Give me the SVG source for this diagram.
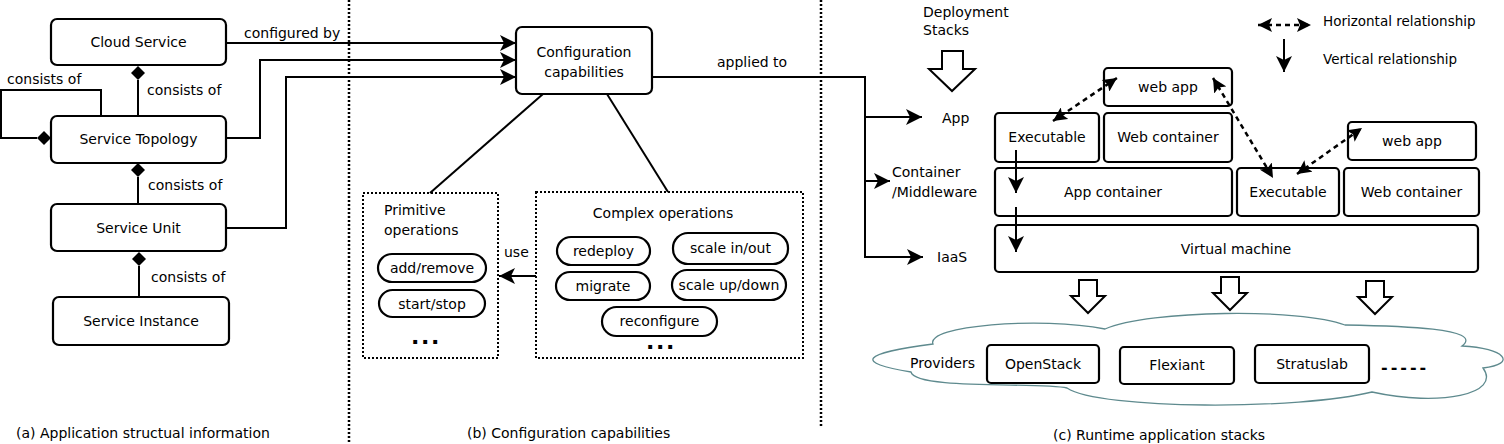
<svg xmlns="http://www.w3.org/2000/svg" width="1504" height="444" viewBox="0 0 1504 444">
<style>
.t{font-family:"DejaVu Sans",Verdana,sans-serif;font-size:14px;fill:#000}
.s{font-size:13.5px}
.m{text-anchor:middle}
.box{fill:#fff;stroke:#000;stroke-width:2.2}
.dot{fill:none;stroke:#000;stroke-width:2;stroke-dasharray:2 2}
.sep{fill:none;stroke:#000;stroke-width:2.5;stroke-dasharray:2 2}
.ln{fill:none;stroke:#000;stroke-width:2}
.dash{fill:none;stroke:#000;stroke-width:2.5;stroke-dasharray:5 4}
.dia{fill:#000;stroke:none}
.ha{fill:#fff;stroke:#000;stroke-width:2}
.cl{fill:#fff;stroke:#5e8a8e;stroke-width:1.3}
.b{font-weight:bold;font-size:22px;letter-spacing:1.6px}
</style>
<defs>
<marker id="ah" markerUnits="userSpaceOnUse" markerWidth="16" markerHeight="16" viewBox="0 0 16 16" refX="16" refY="8" orient="auto"><path d="M0,0 L16,8 L0,16 L4,8 Z" fill="#000"/></marker>
<marker id="dh" markerUnits="userSpaceOnUse" markerWidth="14" markerHeight="14" viewBox="0 0 14 14" refX="14" refY="7" orient="auto-start-reverse"><path d="M0,0 L14,7 L0,14 L3,7 Z" fill="#000"/></marker>
<polygon id="ha" class="ha" points="-9,0 9,0 9,16 17,16 0,33 -17,16 -9,16"/>
</defs>

<!-- separators -->
<g id="separators">
<line class="sep" x1="349" y1="0" x2="349" y2="444"/>
<line class="sep" x1="821" y1="0" x2="821" y2="428"/>
</g>

<!-- (a) nodes -->
<g id="cloud-service"><rect class="box" x="51" y="19" width="175" height="46" rx="6"/><text class="t m" x="138.5" y="47">Cloud Service</text></g>
<g id="service-topology"><rect class="box" x="51" y="116" width="175" height="47" rx="6"/><text class="t m" x="138.5" y="144">Service Topology</text></g>
<g id="service-unit"><rect class="box" x="51" y="204" width="175" height="47" rx="6"/><text class="t m" x="138.5" y="233">Service Unit</text></g>
<g id="service-instance"><rect class="box" x="53" y="297" width="176" height="48" rx="6"/><text class="t m" x="141" y="326">Service Instance</text></g>

<!-- (b) nodes -->
<g id="config-capabilities"><rect class="box" x="516" y="27" width="136" height="67" rx="6"/><text class="t m" x="584" y="57">Configuration</text><text class="t m" x="584" y="77">capabilities</text></g>
<g id="primitive-ops">
<rect class="dot" x="363" y="193" width="135" height="165"/>
<text class="t" x="384" y="215">Primitive</text><text class="t" x="384" y="235">operations</text>
<rect class="box" x="378" y="254" width="108" height="28" rx="14"/><text class="t m" x="432" y="273">add/remove</text>
<rect class="box" x="379" y="290" width="106" height="27" rx="13.5"/><text class="t m" x="432" y="309">start/stop</text>
<text class="t b" x="411" y="344">...</text>
</g>
<g id="complex-ops">
<rect class="dot" x="536" y="192" width="267" height="166"/>
<text class="t m" x="663" y="218">Complex operations</text>
<rect class="box" x="557" y="237" width="93" height="28" rx="14"/><text class="t m" x="603.5" y="256">redeploy</text>
<rect class="box" x="673" y="233" width="115" height="31" rx="15"/><text class="t m" x="730.5" y="253">scale in/out</text>
<rect class="box" x="556" y="272" width="94" height="28" rx="14"/><text class="t m" x="603" y="291">migrate</text>
<rect class="box" x="672" y="270" width="114" height="30" rx="15"/><text class="t m" x="729" y="290">scale up/down</text>
<rect class="box" x="602" y="307" width="115" height="29" rx="14.5"/><text class="t m" x="659.5" y="326">reconfigure</text>
<text class="t b" x="646" y="349">...</text>
</g>

<!-- (c) nodes -->
<g id="deployment-stacks">
<text class="t" x="923" y="17">Deployment</text><text class="t" x="923" y="35">Stacks</text>
<polygon class="ha" points="942,51 963,51 963,69 975,69 952,91 929,69 942,69"/>
</g>
<g id="layer-labels">
<text class="t" x="942" y="123">App</text>
<text class="t" x="892" y="177">Container</text><text class="t" x="892" y="197">/Middleware</text>
<text class="t" x="937" y="262">IaaS</text>
</g>
<g id="legend">
<line class="dash" x1="1258" y1="25" x2="1311" y2="25" marker-start="url(#dh)" marker-end="url(#dh)"/>
<text class="t s" x="1323" y="26">Horizontal relationship</text>
<line class="ln" x1="1284" y1="39" x2="1284" y2="72" marker-end="url(#ah)"/>
<text class="t s" x="1323" y="64">Vertical relationship</text>
</g>
<g id="web-app-1"><rect class="box" x="1104" y="68" width="128" height="38" rx="4"/><text class="t m" x="1168" y="92">web app</text></g>
<g id="executable-1"><rect class="box" x="995" y="113" width="104" height="49" rx="4"/><text class="t m" x="1047" y="142">Executable</text></g>
<g id="web-container-1"><rect class="box" x="1104" y="113" width="128" height="49" rx="4"/><text class="t m" x="1168" y="142">Web container</text></g>
<g id="app-container"><rect class="box" x="995" y="168" width="237" height="48" rx="4"/><text class="t m" x="1113" y="197">App container</text></g>
<g id="web-app-2"><rect class="box" x="1348" y="122" width="128" height="38" rx="4"/><text class="t m" x="1412" y="146">web app</text></g>
<g id="executable-2"><rect class="box" x="1237" y="168" width="102" height="48" rx="4"/><text class="t m" x="1288" y="197">Executable</text></g>
<g id="web-container-2"><rect class="box" x="1344" y="168" width="135" height="48" rx="4"/><text class="t m" x="1411.5" y="197">Web container</text></g>
<g id="virtual-machine"><rect class="box" x="995" y="225" width="483" height="47" rx="4"/><text class="t m" x="1236" y="254">Virtual machine</text></g>

<g id="providers">
<path class="cl" d="M911,372 Q825,358 933,344 C925,326 1040,316 1105,329 C1150,310 1300,308 1345,325 C1400,326 1485,328 1462,346 C1505,348 1518,364 1483,368 C1502,394 1440,407 1372,392 C1300,410 1100,410 1067,388 C1040,382 915,390 911,372 Z"/>
<text class="t" x="910" y="368">Providers</text>
<text class="t b" x="1381" y="373" style="font-size:16px;letter-spacing:3px">-----</text>
</g>
<g id="openstack"><rect class="box" x="987" y="345" width="112" height="38" rx="4"/><text class="t m" x="1043" y="369">OpenStack</text></g>
<g id="flexiant"><rect class="box" x="1120" y="347" width="114" height="37" rx="4"/><text class="t m" x="1177" y="370">Flexiant</text></g>
<g id="stratuslab"><rect class="box" x="1255" y="345" width="114" height="38" rx="4"/><text class="t m" x="1312" y="369">Stratuslab</text></g>

<!-- connectors -->
<g id="connectors">
<path class="ln" d="M138,80 V116"/>
<polygon class="dia" points="138,66 145,73 138,80 131,73"/>
<text class="t" x="147" y="95">consists of</text>
<path class="ln" d="M101,116 V90 H1 V138 H37"/>
<polygon class="dia" points="37,138 44,131 51,138 44,145"/>
<text class="t" x="7" y="84">consists of</text>
<path class="ln" d="M138,177 V204"/>
<polygon class="dia" points="138,163 145,170 138,177 131,170"/>
<text class="t" x="148" y="190">consists of</text>
<path class="ln" d="M139,266 V297"/>
<polygon class="dia" points="139,252 146,259 139,266 132,259"/>
<text class="t" x="151" y="282">consists of</text>

<path class="ln" d="M226,43 H516" marker-end="url(#ah)"/>
<text class="t" x="244" y="38">configured by</text>
<path class="ln" d="M226,138 H260 V60 H516" marker-end="url(#ah)"/>
<path class="ln" d="M226,228 H286 V77 H516" marker-end="url(#ah)"/>

<path class="ln" d="M543,94 L430,193"/>
<path class="ln" d="M607,94 L668,192"/>
<path class="ln" d="M536,276 H499" marker-end="url(#ah)"/>
<text class="t" x="504" y="257">use</text>

<path class="ln" d="M652,77 H865 V257 H923" marker-end="url(#ah)"/>
<text class="t" x="717" y="67">applied to</text>
<path class="ln" d="M865,117 H922" marker-end="url(#ah)"/>
<path class="ln" d="M865,181 H890" marker-end="url(#ah)"/>

<path class="ln" d="M1016,150 V193" marker-end="url(#ah)"/>
<path class="ln" d="M1016,207 V252" marker-end="url(#ah)"/>

<line class="dash" x1="1053" y1="121" x2="1117" y2="78" marker-start="url(#dh)" marker-end="url(#dh)"/>
<line class="dash" x1="1213" y1="78" x2="1273" y2="178" marker-start="url(#dh)" marker-end="url(#dh)"/>
<line class="dash" x1="1297" y1="174" x2="1362" y2="128" marker-start="url(#dh)" marker-end="url(#dh)"/>

<use href="#ha" x="1088" y="280"/>
<use href="#ha" x="1230" y="277"/>
<use href="#ha" x="1375" y="281"/>
</g>

<g id="captions">
<text class="t" x="16" y="438">(a) Application structual information</text>
<text class="t" x="467" y="438">(b) Configuration capabilities</text>
<text class="t" x="1053" y="440">(c) Runtime application stacks</text>
</g>
</svg>
